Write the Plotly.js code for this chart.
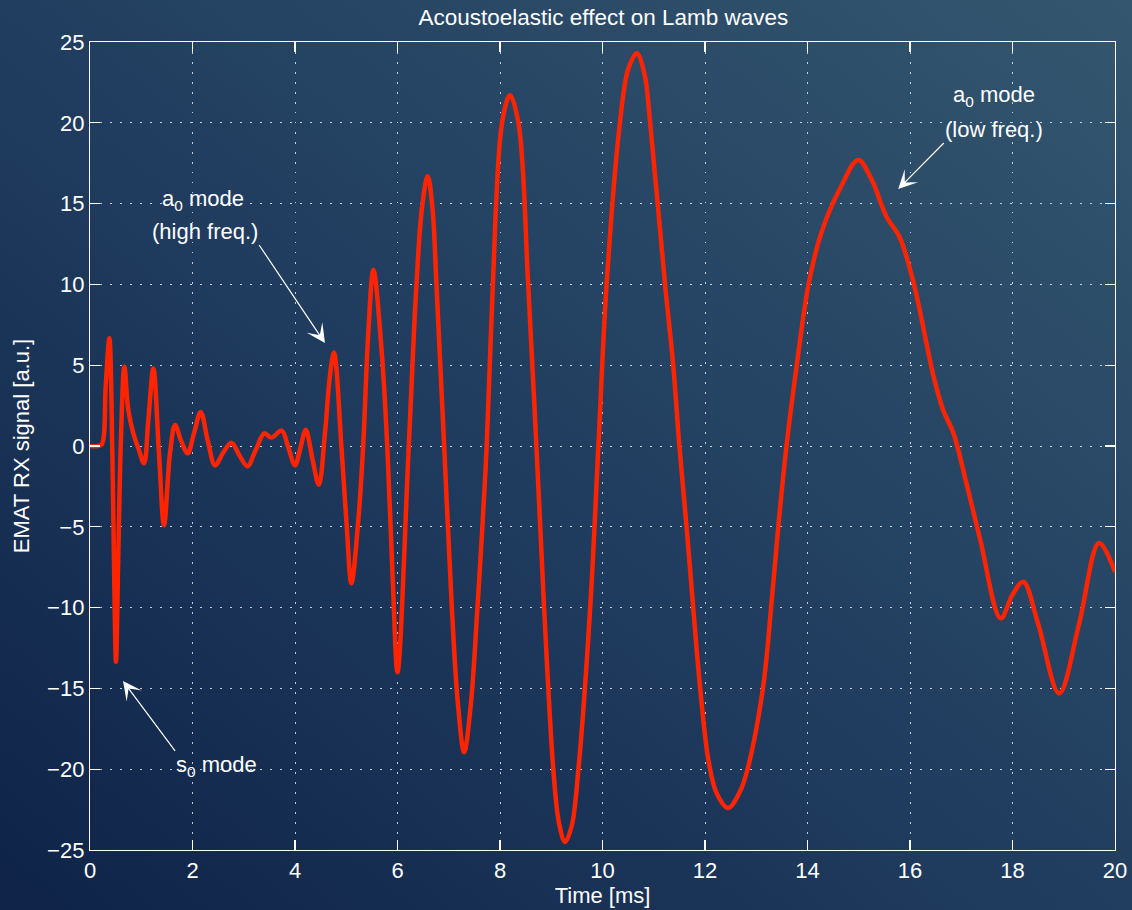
<!DOCTYPE html>
<html>
<head>
<meta charset="utf-8">
<script src="https://cdn.plot.ly/plotly-3.0.1.min.js"></script>
<style>
  html, body { margin: 0; padding: 0; width: 1132px; height: 910px; overflow: hidden; }
  body { background: linear-gradient(to top right, #0e2347 0%, #1f3b5e 45%, #34576f 100%); }
  #chart { width: 1132px; height: 910px; }
</style>
</head>
<body>
<div id="chart"></div>
<script>
// Time axis [ms] and EMAT RX signal [a.u.]
const timeMs = [
  0, 0.15, 0.23, 0.306, 0.377, 0.436, 0.475, 0.507, 0.553, 0.605, 0.67, 0.748, 0.845, 0.95, 1.054,
  1.138, 1.236, 1.346, 1.444, 1.561, 1.66, 1.78, 1.906, 2.03, 2.16, 2.3, 2.44, 2.6, 2.76, 2.92, 3.07,
  3.24, 3.40, 3.54, 3.74, 3.87, 4.0, 4.1, 4.21, 4.34, 4.465, 4.585, 4.68, 4.76, 4.91, 5.01, 5.1,
  5.24, 5.33, 5.43, 5.53, 5.69, 5.80, 5.91, 6.0, 6.22, 6.37, 6.48, 6.59, 6.68, 6.76, 6.91, 7.06, 7.18, 7.30,
  7.43, 7.56, 7.74, 7.86, 8.04, 8.195, 8.36, 8.55, 8.71, 8.86, 9.04, 9.15, 9.27, 9.4, 9.53, 9.76, 9.92, 10.08, 10.34,
  10.5, 10.67, 10.82, 10.93, 11.22, 11.38, 11.5, 11.64, 11.77, 11.9, 12.07, 12.23, 12.45, 12.68, 12.83, 13.13, 13.29, 13.43,
  13.59, 13.79, 14.02, 14.27, 14.63, 14.99, 15.25, 15.54, 15.8, 16.07, 16.46, 16.65, 16.85, 17.1,
  17.37, 17.77, 18.0, 18.21, 18.5, 18.91, 19.3, 19.69, 20
];
const rxSignal = [
  0, 0, 0.1, 3.7, 6.66, -0.45, -8.7, -13.35, -6.6, 0.58, 4.9, 2.2, 0.78, -0.2, -1.07,
  1.6, 4.8, -0.45, -4.9, -0.45, 1.3, 0.3, -0.45, 0.8, 2.1, 0.3, -1.2, -0.4, 0.2, -0.6, -1.25,
  -0.2, 0.78, 0.52, 0.95, -0.1, -1.2, -0.2, 1.0, -0.8, -2.4, 0.8, 4.3, 5.78, -0.25, -5.0, -8.5,
  -4.4, 0, 7.0, 10.9, 5.9, 0, -8.5, -14.0, 0, 10, 14.8, 16.7, 14.8, 10, 0, -10, -16, -18.95,
  -16, -10, 0, 10, 20, 21.7, 20, 10, 0, -10, -20, -23.3, -24.5, -23.5, -20, -10, 0, 10, 20,
  23.3, 24.3, 23.0, 20, 10.0, 5.0, 0, -5.0, -10, -14.8, -19.5, -21.5, -22.4, -21.4, -20, -15, -10, -5,
  0, 5, 10, 13.2, 15.9, 17.7, 16.5, 14.2, 12.9, 10.1, 4.3, 2.2, 0.78, -2.3,
  -5.8, -10.66, -9.2, -8.4, -11, -15.3, -11, -6.0, -7.8
];
const xTicks = [0, 2, 4, 6, 8, 10, 12, 14, 16, 18, 20];
const yTicks = [-25, -20, -15, -10, -5, 0, 5, 10, 15, 20, 25];

// Free labels (no arrow)
const labelTexts = ['a<sub>0</sub> mode', 'a<sub>0</sub> mode'];
const labelX = [2.205, 17.64];
const labelY = [15.2, 21.65];
// Labels carrying arrows: text box corner sits at the arrow tail
const arrowTexts = ['(high freq.)', '(low freq.)', 's<sub>0</sub> mode'];
const arrowHeadX = [4.585, 15.77, 0.644];
const arrowHeadY = [6.37, 15.9, -14.54];
const arrowTailX = [3.30, 16.66, 1.66];
const arrowTailY = [12.44, 18.75, -18.87];
const arrowXAnchor = ['right', 'left', 'left'];
const arrowYAnchor = ['bottom', 'bottom', 'top'];

const FONT = 'Liberation Sans, Arial, Helvetica, sans-serif';
const FS = 22;

const trace = {
  x: timeMs, y: rxSignal, type: 'scatter', mode: 'lines',
  line: { color: '#ff2400', width: 4.5, shape: 'spline', smoothing: 1 },
  hoverinfo: 'skip'
};

const annotations = [];
labelTexts.forEach((t, i) => annotations.push({
  text: t, x: labelX[i], y: labelY[i], xref: 'x', yref: 'y',
  showarrow: false, xanchor: 'center', yanchor: 'middle',
  font: { family: FONT, size: FS, color: '#ffffff' }
}));
arrowTexts.forEach((t, i) => annotations.push({
  text: t, x: arrowHeadX[i], y: arrowHeadY[i], xref: 'x', yref: 'y',
  ax: arrowTailX[i], ay: arrowTailY[i], axref: 'x', ayref: 'y',
  xanchor: arrowXAnchor[i], yanchor: arrowYAnchor[i], borderpad: 0,
  font: { family: FONT, size: FS, color: '#ffffff' },
  showarrow: true, arrowhead: 3, arrowsize: 2.6, arrowwidth: 1.2,
  arrowcolor: '#ffffff', standoff: 0, startstandoff: 0
}));

const axisCommon = {
  showline: true, linecolor: '#ffffff', linewidth: 1.2, mirror: 'ticks',
  ticks: 'inside', ticklen: 10, tickwidth: 1.2, tickcolor: '#ffffff',
  showgrid: true, gridcolor: 'rgba(255,255,255,0.75)', gridwidth: 1, griddash: '1.5px,8.5px',
  zeroline: false, tickfont: { family: FONT, size: FS, color: '#ffffff' },
  automargin: false, fixedrange: true
};

const layout = {
  width: 1132, height: 910,
  margin: { l: 90, r: 17, t: 42, b: 60 },
  paper_bgcolor: 'rgba(0,0,0,0)', plot_bgcolor: 'rgba(0,0,0,0)',
  showlegend: false,
  title: { text: 'Acoustoelastic effect on Lamb waves', x: 0.533, xanchor: 'center', y: 0.981, yanchor: 'middle',
           font: { family: FONT, size: 22.5, color: '#ffffff' } },
  xaxis: Object.assign({}, axisCommon, {
    range: [0, 20], tickvals: xTicks, ticktext: xTicks.map(String),
    title: { text: 'Time [ms]', standoff: 4, font: { family: FONT, size: FS, color: '#ffffff' } }
  }),
  yaxis: Object.assign({}, axisCommon, {
    range: [-25, 25], tickvals: yTicks,
    title: { text: 'EMAT RX signal [a.u.]', standoff: 11, font: { family: FONT, size: FS, color: '#ffffff' } }
  }),
  annotations: annotations
};

Plotly.newPlot('chart', [trace], layout, { displayModeBar: false, staticPlot: true });
</script>
</body>
</html>
